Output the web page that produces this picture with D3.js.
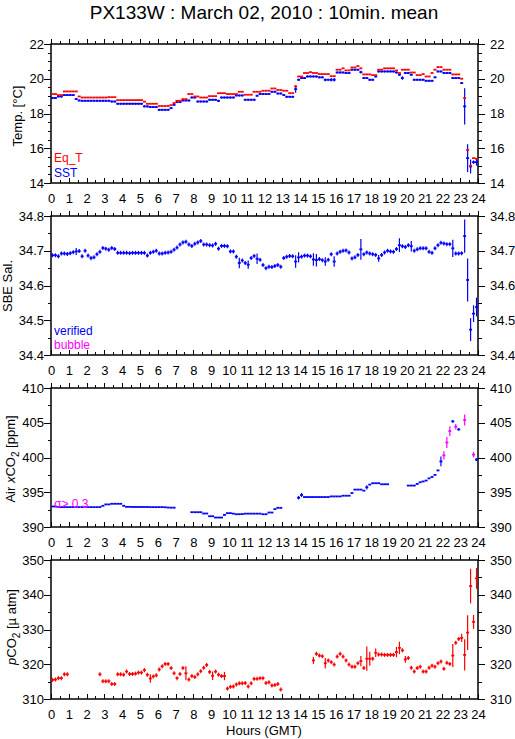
<!DOCTYPE html>
<html lang="en">
<head>
<meta charset="utf-8">
<title>PX133W : March 02, 2010 : 10min. mean</title>
<style>
    body {
        margin: 0;
        background: #fff;
    }

    svg {
        display: block;
        font-family: "Liberation Sans", Arial, Helvetica, sans-serif;
    }

    .axis path {
        display: none;
    }

    .axis line {
        stroke: #000;
        stroke-width: 1;
        shape-rendering: crispEdges;
    }

    .axis text {
        font-size: 13px;
        fill: #000;
    }

    .frame {
        fill: none;
        stroke: #000;
        stroke-width: 1.5;
    }

    .ylabel {
        font-size: 13px;
        fill: #000;
    }

    .legend {
        font-size: 12px;
    }
</style>
</head>
<body>
<div id="chart"></div>
<script src="https://cdn.jsdelivr.net/npm/d3@7"></script>
<script>
    var width = 515, height = 739;
    var left = 51, right = 478;
    var panelTops = [44, 216, 388, 560], panelH = 139;

    // 10 minute bins, 6 per hour, 144 per day
    var binsPerHour = 6;
    var hourTicks = d3.range(0, 25);
    var halfHourTicks = d3.range(0.5, 24, 1);

    // Eq_T (red) and SST (blue), deg C
    var eqT = [
        19.12,19.12,19.06,19.06,19.27,19.27,19.27,19.27,19.27,18.98,18.92,18.92,
        18.92,18.92,18.92,18.92,18.92,18.92,18.92,18.94,18.94,18.94,18.77,18.77,
        18.77,18.77,18.77,18.77,18.77,18.77,18.77,18.68,18.56,18.56,18.56,18.56,
        18.43,18.43,18.43,18.43,18.48,18.60,18.73,18.73,18.83,18.83,19.12,19.12,
        18.98,18.98,18.92,18.92,18.92,19.00,19.00,19.00,19.17,19.17,19.17,19.12,
        19.12,19.12,19.12,19.25,19.25,19.08,19.08,19.08,19.25,19.25,19.25,19.31,
        19.31,19.31,19.44,19.44,19.35,19.35,19.31,19.31,19.17,19.17,19.56,20.13,
        20.13,20.33,20.33,20.38,20.33,20.33,20.27,20.27,20.27,20.27,20.15,20.15,
        20.52,20.52,20.60,20.48,20.48,20.65,20.65,20.73,20.60,20.25,20.25,20.25,
        20.21,20.21,20.52,20.52,20.60,20.60,20.60,20.60,20.48,20.33,20.52,20.52,
        20.52,20.36,20.36,20.21,20.21,20.27,20.13,20.13,20.33,20.52,20.67,20.67,
        20.52,20.52,20.52,20.25,20.25,20.25,20.00,18.89,15.90,14.99,15.43,15.40
    ];
    var eqTErr = [[82, 0.08]];

    var sst = [
        18.89,18.89,18.98,18.98,19.06,19.06,19.06,19.06,18.83,18.75,18.73,18.73,
        18.73,18.73,18.73,18.73,18.73,18.73,18.73,18.73,18.69,18.69,18.56,18.56,
        18.56,18.56,18.56,18.56,18.56,18.56,18.56,18.41,18.41,18.37,18.37,18.37,
        18.21,18.21,18.21,18.21,18.31,18.50,18.66,18.66,18.75,18.75,18.75,18.92,
        18.92,18.69,18.69,18.69,18.69,18.79,18.79,18.79,18.73,18.92,18.92,18.92,
        18.92,18.92,19.04,19.04,19.04,18.79,18.79,18.79,18.79,19.02,19.12,19.12,
        19.12,19.12,19.25,19.25,19.15,19.15,19.06,18.96,18.96,18.96,19.40,19.94,
        20.04,20.04,20.13,20.13,20.13,20.13,20.08,20.08,19.94,19.94,19.94,19.94,
        20.36,20.36,20.36,20.33,20.33,20.52,20.52,20.52,20.38,20.04,20.04,19.94,
        19.94,20.13,20.42,20.42,20.42,20.42,20.42,20.42,20.36,20.23,20.04,20.33,
        20.33,20.23,19.94,19.94,19.94,19.94,19.88,19.88,19.88,20.08,20.42,20.42,
        20.33,20.33,20.33,20.04,20.04,20.04,19.75,18.41,15.43,14.95,15.20,15.20
    ];
    var sstErr = [[82, 0.2], [92, 0.08], [94, 0.1], [95, 0.1], [104, 0.08], [118, 0.1],
        [139, 1.05], [140, 0.8], [141, 0.4], [142, 0.1], [143, 0.2]];

    // SBE salinity (verified)
    var salinity = [
        34.687,34.687,34.684,34.692,34.692,34.691,34.693,34.696,34.698,34.699,34.684,34.700,
        34.686,34.679,34.681,34.690,34.697,34.708,34.706,34.703,34.708,34.705,34.694,34.694,
        34.694,34.694,34.693,34.694,34.694,34.694,34.694,34.694,34.686,34.694,34.697,34.700,
        34.692,34.692,34.694,34.695,34.697,34.703,34.709,34.718,34.724,34.726,34.718,34.714,
        34.720,34.724,34.728,34.718,34.718,34.716,34.715,34.720,34.706,34.714,34.714,34.713,
        34.698,34.698,34.683,34.665,34.672,34.665,34.660,34.679,34.685,34.677,34.674,34.659,
        34.650,34.654,34.653,34.656,34.659,34.654,34.679,34.683,34.685,34.684,34.669,34.681,
        34.683,34.686,34.686,34.684,34.675,34.673,34.676,34.673,34.669,34.674,34.690,34.669,
        34.692,34.697,34.700,34.701,34.695,34.678,34.681,34.688,34.704,34.690,34.695,34.692,
        34.690,34.688,34.678,34.688,34.695,34.700,34.698,34.697,34.705,34.716,34.713,34.711,
        34.716,34.713,34.700,34.704,34.707,34.707,34.707,34.697,34.694,34.707,34.716,34.723,
        34.721,34.719,34.719,34.707,34.692,34.692,34.693,34.742,34.616,34.473,34.519,34.538
    ];
    var salErr = [[8, 0.01], [13, 0.006], [63, 0.015], [66, 0.012], [69, 0.015], [82, 0.018],
        [83, 0.015], [88, 0.018], [89, 0.018], [92, 0.012], [95, 0.015], [104, 0.03], [110, 0.01],
        [117, 0.02], [121, 0.015], [135, 0.025], [139, 0.048], [140, 0.062], [141, 0.033],
        [142, 0.024], [143, 0.027]];

    // Air xCO2, ppm
    var airXco2 = [
        392.95,392.95,392.86,392.86,392.86,392.86,392.86,392.86,392.86,392.86,392.86,392.86,
        392.86,392.86,392.86,392.86,392.86,393.05,393.25,393.25,393.34,393.34,393.34,393.34,
        393.05,392.90,392.90,392.88,392.88,392.88,392.88,392.88,392.88,392.86,392.86,392.86,
        392.86,392.86,392.84,392.80,392.78,392.78,null,null,null,null,null,392.13,
        392.13,392.13,392.13,391.94,391.94,391.55,391.55,391.36,391.36,391.36,391.74,391.99,
        391.99,391.92,391.84,391.84,391.86,391.92,391.92,391.92,391.92,391.92,391.92,391.84,
        391.84,392.08,392.08,392.57,392.76,392.76,null,null,null,null,null,394.21,
        394.60,394.31,394.31,394.31,394.31,394.31,394.31,394.31,394.31,394.31,394.40,394.40,
        394.40,394.40,394.50,394.50,394.50,394.89,395.38,395.38,395.38,395.23,395.71,396.10,
        396.30,396.30,396.30,396.15,396.15,396.15,null,null,null,null,null,null,
        395.96,395.96,395.96,396.20,396.44,396.55,396.68,397.00,397.20,397.50,398.14,399.44,
        400.31,402.15,403.80,405.20,404.43,404.04,null,405.40,null,null,400.41,399.70
    ];
    var xco2Err = [[83, 0.25], [84, 0.3], [106, 0.3], [131, 0.7], [132, 0.6], [133, 0.8],
        [134, 0.7], [135, 0.2], [136, 0.4], [137, 0.2], [139, 0.8], [142, 0.4], [143, 0.2]];
    // bins with sigma > 0.3
    var xco2Flagged = [132, 133, 134, 136, 139, 142];

    // pCO2, micro atm
    var pco2 = [
        315.5,315.6,316.0,316.0,317.1,317.1,null,null,null,null,null,null,
        null,null,null,null,317.1,315.1,315.1,315.1,314.3,314.3,317.1,317.1,
        317.0,317.9,317.2,317.2,317.3,317.6,317.6,318.3,317.0,315.9,316.5,316.8,
        318.5,319.4,320.1,320.1,318.9,317.4,316.0,317.2,318.9,317.4,315.6,316.6,
        316.3,317.1,318.0,319.0,319.8,317.8,316.7,317.9,317.0,316.6,316.6,313.0,
        313.5,313.6,314.2,314.5,314.5,314.6,313.6,314.5,315.8,315.8,316.0,316.0,
        314.6,314.8,313.9,314.0,314.3,312.7,null,null,null,null,null,null,
        null,null,null,null,321.1,323.0,322.5,322.3,320.3,321.1,320.6,319.9,
        322.2,323.0,322.2,321.1,319.9,319.3,319.3,320.3,320.9,318.9,321.6,321.6,
        321.6,323.3,322.8,322.8,322.7,322.7,322.7,322.7,323.5,324.7,324.0,321.4,
        321.8,319.0,317.9,318.9,319.3,317.9,317.9,319.0,319.6,319.3,320.3,320.8,
        318.7,320.4,320.1,322.5,326.2,327.3,327.6,322.7,329.1,342.5,332.2,344.7
    ];
    var pco2Err = [[33, 1.2], [45, 2.0], [54, 1.2], [58, 1.2], [88, 1.0], [92, 1.5], [104, 1.5],
        [106, 3.5], [107, 2.0], [109, 1.2], [116, 1.5], [117, 1.8], [119, 1.0], [135, 3.3],
        [138, 1.2], [139, 4.5], [140, 5.0], [141, 5.0], [142, 2.0], [143, 3.0]];

    var RED = "#ff0000", BLUE = "#0000ff", MAGENTA = "#ff00ff";

    var svg = d3.select("#chart")
        .append("svg")
        .attr("width", width)
        .attr("height", height);

    svg.append("rect").attr("width", width).attr("height", height).attr("fill", "#fff");

    svg.append("text")
        .attr("x", 264)
        .attr("y", 19)
        .attr("text-anchor", "middle")
        .style("font-size", "19px")
        .text("PX133W : March 02, 2010 : 10min. mean");

    var x = d3.scaleLinear().domain([0, 24]).range([left, right]);

    var panels = [
        { domain: [14, 22], major: 2, minor: 0.5, fmt: d3.format("d") },
        { domain: [34.4, 34.8], major: 0.1, minor: 0.05, fmt: d3.format(".1f") },
        { domain: [390, 410], major: 5, minor: 2.5, fmt: d3.format("d") },
        { domain: [310, 350], major: 10, minor: 5, fmt: d3.format("d") }
    ];

    function ticksBetween(lo, hi, step) {
        var n = Math.round((hi - lo) / step);
        return d3.range(0, n + 1).map(function(k) { return +(lo + k * step).toFixed(4); });
    }

    function drawPanel(p, i) {
        var top = panelTops[i], bottom = top + panelH;
        var y = d3.scaleLinear().domain(p.domain).range([bottom, top]);
        var g = svg.append("g");

        var majors = ticksBetween(p.domain[0], p.domain[1], p.major);
        var minors = ticksBetween(p.domain[0], p.domain[1], p.minor)
            .filter(function(v) { return majors.indexOf(v) < 0; });

        // x ticks point up on both the top and bottom edges
        [top, bottom].forEach(function(yy) {
            g.append("g").attr("class", "axis").attr("transform", "translate(0," + yy + ")")
                .call(d3.axisTop(x).tickValues(hourTicks).tickSize(5).tickFormat(""));
            g.append("g").attr("class", "axis").attr("transform", "translate(0," + yy + ")")
                .call(d3.axisTop(x).tickValues(halfHourTicks).tickSize(3).tickFormat(""));
        });
        g.append("g").attr("class", "axis").attr("transform", "translate(0," + bottom + ")")
            .call(d3.axisBottom(x).tickValues(hourTicks).tickSize(0).tickPadding(11).tickFormat(d3.format("d")));

        // y ticks point outward on both sides
        g.append("g").attr("class", "axis").attr("transform", "translate(" + left + ",0)")
            .call(d3.axisLeft(y).tickValues(majors).tickSize(7).tickPadding(0).tickFormat(p.fmt));
        g.append("g").attr("class", "axis").attr("transform", "translate(" + left + ",0)")
            .call(d3.axisLeft(y).tickValues(minors).tickSize(3.5).tickFormat(""));
        g.append("g").attr("class", "axis").attr("transform", "translate(" + right + ",0)")
            .call(d3.axisRight(y).tickValues(majors).tickSize(7).tickPadding(5).tickFormat(p.fmt));
        g.append("g").attr("class", "axis").attr("transform", "translate(" + right + ",0)")
            .call(d3.axisRight(y).tickValues(minors).tickSize(3.5).tickFormat(""));

        g.append("rect").attr("class", "frame")
            .attr("x", left).attr("y", top)
            .attr("width", right - left).attr("height", panelH);

        g.append("clipPath").attr("id", "clip" + i)
            .append("rect").attr("x", left).attr("y", top)
            .attr("width", right - left).attr("height", panelH);

        return { g: g.append("g").attr("clip-path", "url(#clip" + i + ")"), y: y };
    }

    // each 10 min value: a bin-wide horizontal bar and a vertical +/- sd bar
    function drawSeries(target, values, errs, color, minHalf, flagged) {
        var y = target.y;
        var errMap = new Map(errs);
        var pts = values.map(function(v, i) { return { i: i, v: v, e: errMap.get(i) || 0 }; })
            .filter(function(d) { return d.v !== null; });

        var mark = target.g.selectAll(null)
            .data(pts)
            .enter().append("g")
            .attr("stroke", function(d) {
                return flagged && flagged.indexOf(d.i) >= 0 ? MAGENTA : color;
            });

        mark.append("line")
            .attr("x1", function(d) { return x(d.i / binsPerHour); })
            .attr("x2", function(d) { return x((d.i + 1) / binsPerHour); })
            .attr("y1", function(d) { return y(d.v); })
            .attr("y2", function(d) { return y(d.v); })
            .attr("stroke-width", 1.8);

        mark.filter(function(d) { return d.e > 0 || minHalf > 0; })
            .append("line")
            .attr("x1", function(d) { return x((d.i + 0.5) / binsPerHour); })
            .attr("x2", function(d) { return x((d.i + 0.5) / binsPerHour); })
            .attr("y1", function(d) { return Math.min(y(d.v + d.e), y(d.v) - minHalf); })
            .attr("y2", function(d) { return Math.max(y(d.v - d.e), y(d.v) + minHalf); })
            .attr("stroke-width", 1.2);
    }

    var p1 = drawPanel(panels[0], 0);
    var p2 = drawPanel(panels[1], 1);
    var p3 = drawPanel(panels[2], 2);
    var p4 = drawPanel(panels[3], 3);

    drawSeries(p1, sst, sstErr, BLUE, 1);
    drawSeries(p1, eqT, eqTErr, RED, 0);
    drawSeries(p2, salinity, salErr, BLUE, 2);
    drawSeries(p3, airXco2, xco2Err, BLUE, 0, xco2Flagged);
    drawSeries(p4, pco2, pco2Err, RED, 2);

    // y axis titles
    function yLabel(cx, cy) {
        return svg.append("text")
            .attr("class", "ylabel")
            .attr("text-anchor", "middle")
            .attr("transform", "translate(" + cx + "," + cy + ") rotate(-90)");
    }

    yLabel(22, 116).text("Temp. [°C]");
    yLabel(12, 286).text("SBE Sal.");

    var l3 = yLabel(15, 459);
    l3.append("tspan").text("Air ");
    l3.append("tspan").style("font-style", "italic").text("x");
    l3.append("tspan").text("CO");
    l3.append("tspan").attr("dy", 4).style("font-size", "10px").text("2");
    l3.append("tspan").attr("dy", -4).text(" [ppm]");

    var l4 = yLabel(16, 627);
    l4.append("tspan").style("font-style", "italic").text("p");
    l4.append("tspan").text("CO");
    l4.append("tspan").attr("dy", 4).style("font-size", "10px").text("2");
    l4.append("tspan").attr("dy", -4).text(" [µ atm]");

    svg.append("text")
        .attr("x", 264)
        .attr("y", 735)
        .attr("text-anchor", "middle")
        .style("font-size", "13px")
        .text("Hours (GMT)");

    // legends
    var legends = [
        { text: "Eq_T", color: RED, y: 162 },
        { text: "SST", color: BLUE, y: 177 },
        { text: "verified", color: BLUE, y: 335 },
        { text: "bubble", color: MAGENTA, y: 349 },
        { text: "σ> 0.3", color: MAGENTA, y: 508 }
    ];

    svg.selectAll(".legend")
        .data(legends)
        .enter().append("text")
        .attr("class", "legend")
        .attr("x", 54)
        .attr("y", function(d) { return d.y; })
        .attr("fill", function(d) { return d.color; })
        .text(function(d) { return d.text; });
</script>
</body>
</html>
